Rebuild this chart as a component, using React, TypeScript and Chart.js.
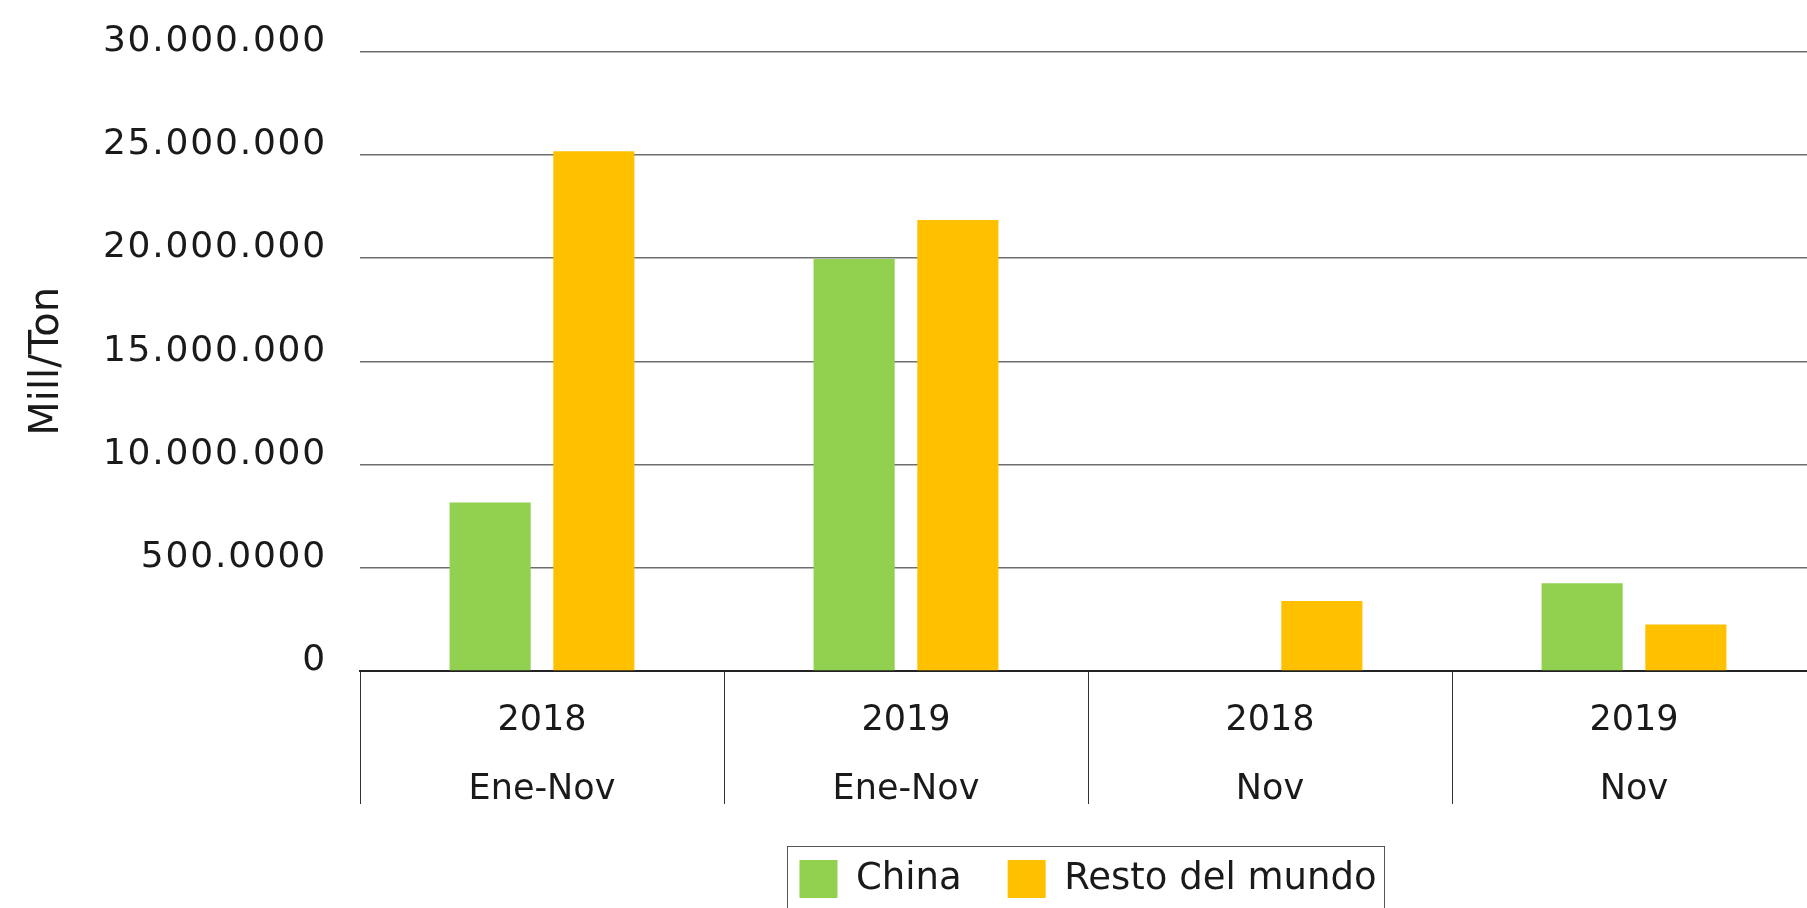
import { useEffect, useRef } from "react";
import { Chart, registerables } from "chart.js";

Chart.register(...registerables);

// ---- data ----
const categories: string[][] = [
  ["2018", "Ene-Nov"],
  ["2019", "Ene-Nov"],
  ["2018", "Nov"],
  ["2019", "Nov"],
];
const seriesNames = ["China", "Resto del mundo"];
const chinaValues = [8160000, 19950000, 0, 4250000];
const restoValues = [25170000, 21840000, 3390000, 2250000];
const yTickValues = [0, 5000000, 10000000, 15000000, 20000000, 25000000, 30000000];
const yTickLabels = [
  "0",
  "500.0000",
  "10.000.000",
  "15.000.000",
  "20.000.000",
  "25.000.000",
  "30.000.000",
];
const yAxisTitle = "Mill/Ton";

const FONT = "'DejaVu Sans', sans-serif";
const TEXT = "#1a1a1a";
const CANVAS_W = 1816;
const CANVAS_H = 908;

const legendBorder = {
  id: "legendBorder",
  afterDraw(chart: any) {
    const lg = chart.legend;
    if (!lg || !lg.legendHitBoxes || !lg.legendHitBoxes.length) return;
    const hb = lg.legendHitBoxes;
    const left = hb[0].left - 12;
    const last = hb[hb.length - 1];
    const right = last.left + last.width + 8;
    const top = hb[0].top - 14;
    const ctx = chart.ctx;
    ctx.save();
    ctx.strokeStyle = "#555";
    ctx.lineWidth = 1;
    ctx.strokeRect(Math.round(left) + 0.5, Math.round(top) + 0.5, Math.round(right - left), chart.height - top + 10);
    ctx.restore();
  },
};

export default function App() {
  const ref = useRef<HTMLCanvasElement | null>(null);

  useEffect(() => {
    if (!ref.current) return;
    const chart: any = new Chart(ref.current, {
      type: "bar",
      data: {
        labels: categories,
        datasets: [
          {
            label: seriesNames[0],
            data: chinaValues,
            backgroundColor: "#92D050",
            categoryPercentage: 0.57,
            barPercentage: 0.782,
          },
          {
            label: seriesNames[1],
            data: restoValues,
            backgroundColor: "#FFC000",
            categoryPercentage: 0.57,
            barPercentage: 0.782,
          },
        ],
      },
      options: {
        animation: false,
        responsive: false,
        devicePixelRatio: 1,
        layout: { padding: { top: 51.5, left: 0, right: 0, bottom: 0 } },
        plugins: {
          tooltip: { enabled: false },
          legend: {
            position: "bottom",
            fullSize: false,
            labels: {
              boxWidth: 38,
              boxHeight: 38,
              padding: 46,
              color: TEXT,
              font: { family: FONT, size: 37 },
            },
          },
        },
        scales: {
          x: {
            grid: {
              offset: true,
              drawOnChartArea: false,
              drawTicks: true,
              tickLength: 133,
              color: "#333",
              lineWidth: 1,
            },
            border: { display: true, color: "#222", width: 2 },
            ticks: {
              color: TEXT,
              padding: -117,
              maxRotation: 0,
              autoSkip: false,
              font: { family: FONT, size: 35, lineHeight: 1.96 },
            },
            afterFit(scale: any) {
              scale.height = 143;
            },
          },
          y: {
            min: 0,
            max: 30000000,
            afterBuildTicks(scale: any) {
              scale.ticks = yTickValues.map((v) => ({ value: v }));
            },
            grid: {
              drawTicks: false,
              color: (c: any) => (c.tick && c.tick.value === 0 ? "rgba(0,0,0,0)" : "#6e6e6e"),
              lineWidth: 1.5,
            },
            border: { display: false },
            ticks: {
              color: TEXT,
              padding: 33,
              labelOffset: -10,
              font: { family: FONT, size: 36 },
              callback: (value: any) => {
                const i = yTickValues.indexOf(Number(value));
                return i >= 0 ? yTickLabels[i] : "";
              },
            },
            title: {
              display: true,
              text: yAxisTitle,
              color: TEXT,
              font: { family: FONT, size: 40 },
              padding: { top: 24, bottom: 0 },
            },
            afterFit(scale: any) {
              scale.width = 360;
              scale.paddingTop = 0;
              scale.paddingBottom = 0;
            },
          },
        },
      },
      plugins: [legendBorder],
    });

    // widen the y tick label tracking a little (the original font is wider)
    const yScale = chart.scales.y;
    if (yScale) {
      const orig = yScale.drawLabels.bind(yScale);
      yScale.drawLabels = (area: any) => {
        const ctx = chart.ctx;
        ctx.save();
        if ("letterSpacing" in ctx) (ctx as any).letterSpacing = "1.8px";
        orig(area);
        ctx.restore();
      };
      chart.draw();
    }
    return () => chart.destroy();
  }, []);

  return (
    <div style={{ position: "fixed", left: 0, top: 0, width: 1807, height: 908, overflow: "hidden", background: "#fff" }}>
      <canvas ref={ref} width={CANVAS_W} height={CANVAS_H} style={{ display: "block", width: CANVAS_W, height: CANVAS_H }} />
    </div>
  );
}
